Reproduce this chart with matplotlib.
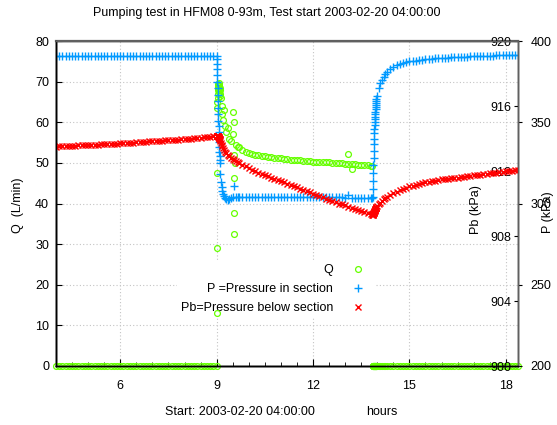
import matplotlib
matplotlib.use('Agg')
import matplotlib.pyplot as plt
from matplotlib.ticker import MultipleLocator

plt.rcParams['font.family'] = ['Liberation Sans', 'DejaVu Sans']

# ---------------- data ----------------
# before pumping
hours_before = [4.0, 4.1, 4.2, 4.3, 4.4, 4.5, 4.6, 4.7, 4.8, 4.9,
                5.0, 5.1, 5.2, 5.3, 5.4, 5.5, 5.6, 5.7, 5.8, 5.9,
                6.0, 6.1, 6.2, 6.3, 6.4, 6.5, 6.6, 6.7, 6.8, 6.9,
                7.0, 7.1, 7.2, 7.3, 7.4, 7.5, 7.6, 7.7, 7.8, 7.9,
                8.0, 8.1, 8.2, 8.3, 8.4, 8.5, 8.6, 8.7, 8.8, 8.9]
q_before = [0.0] * 50
p_before = [391.0] * 50
pb_before = [913.50, 913.51, 913.52, 913.53, 913.54, 913.55, 913.56, 913.57, 913.58, 913.59,
             913.60, 913.61, 913.62, 913.63, 913.64, 913.65, 913.66, 913.67, 913.68, 913.69,
             913.70, 913.71, 913.73, 913.74, 913.75, 913.77, 913.78, 913.79, 913.80, 913.82,
             913.83, 913.84, 913.85, 913.86, 913.88, 913.89, 913.90, 913.91, 913.93, 913.94,
             913.95, 913.97, 913.99, 914.01, 914.03, 914.05, 914.07, 914.09, 914.11, 914.13]

# pumping period
hours_pump = [9.000, 9.005, 9.010, 9.015, 9.020, 9.025, 9.030, 9.035, 9.040, 9.045,
              9.050, 9.055, 9.060, 9.065, 9.070, 9.075, 9.080, 9.085, 9.090, 9.095, 9.100,
              9.12, 9.14, 9.16, 9.18, 9.20, 9.23, 9.26, 9.30, 9.35, 9.40, 9.45, 9.50,
              9.55, 9.60, 9.65, 9.70, 9.80, 9.90,
              10.0, 10.1, 10.2, 10.3, 10.4, 10.5, 10.6, 10.7, 10.8, 10.9,
              11.0, 11.1, 11.2, 11.3, 11.4, 11.5, 11.6, 11.7, 11.8, 11.9,
              12.0, 12.1, 12.2, 12.3, 12.4, 12.5, 12.6, 12.7, 12.8, 12.9,
              13.0, 13.1, 13.2, 13.3, 13.4, 13.5, 13.6, 13.7, 13.8, 13.85]
q_pump = [0.0, 13.0, 29.0, 47.4, 63.5, 65.0, 66.0, 67.0, 68.0, 68.5,
          69.0, 69.5, 69.7, 69.0, 68.0, 69.0, 67.5, 68.5, 66.5, 68.0, 67.0,
          68.5, 66.0, 64.0, 62.0, 60.5, 63.0, 59.0, 57.5, 58.5, 56.0, 55.5, 57.0,
          52.0, 54.5, 54.0, 53.8, 53.2, 52.8,
          52.4, 52.2, 52.0, 51.9, 51.7, 51.6, 51.5, 51.4, 51.3, 51.2,
          51.1, 51.0, 50.9, 50.8, 50.7, 50.7, 50.6, 50.5, 50.5, 50.4,
          50.3, 50.3, 50.2, 50.2, 50.1, 50.1, 50.0, 50.0, 49.9, 49.9,
          49.8, 49.8, 49.7, 49.7, 49.6, 49.6, 49.5, 49.4, 49.3, 49.2]
p_pump = [391.0, 389.0, 386.0, 382.5, 379.0, 375.0, 371.0, 367.0, 363.0, 359.0,
          355.0, 351.0, 347.5, 344.0, 341.0, 338.0, 335.0, 332.0, 329.5, 327.0, 325.0,
          318.0, 313.0, 310.0, 307.5, 306.0, 304.5, 303.5, 302.5, 302.0, 302.5, 303.3, 303.8,
          311.0, 304.0, 304.0, 304.0, 304.2, 304.2,
          304.2, 304.2, 304.2, 304.2, 304.2, 304.2, 304.2, 304.2, 304.2, 304.2,
          304.0, 304.0, 304.0, 304.0, 304.0, 304.0, 304.0, 304.0, 304.0, 304.0,
          303.8, 303.8, 303.8, 303.8, 303.8, 303.8, 303.8, 303.8, 303.8, 303.8,
          303.5, 305.5, 303.5, 303.5, 303.5, 303.5, 303.5, 303.5, 303.5, 303.5]
pb_pump = [914.15, 914.16, 914.17, 914.18, 914.18, 914.18, 914.18, 914.17, 914.16, 914.15,
           914.13, 914.11, 914.09, 914.07, 914.05, 914.03, 914.01, 913.99, 913.97, 913.95, 913.93,
           913.83, 913.73, 913.63, 913.53, 913.43, 913.30, 913.20, 913.08, 912.98, 912.90, 912.80, 912.73,
           912.65, 912.60, 912.55, 912.50, 912.38, 912.28,
           912.18, 912.08, 911.98, 911.90, 911.83, 911.75, 911.68, 911.60, 911.53, 911.45,
           911.38, 911.30, 911.23, 911.15, 911.08, 911.00, 910.90, 910.83, 910.75, 910.68,
           910.60, 910.53, 910.45, 910.38, 910.30, 910.23, 910.15, 910.08, 910.00, 909.95,
           909.88, 909.80, 909.75, 909.68, 909.63, 909.55, 909.48, 909.40, 909.33, 909.30]

# scattered flow readings
q_extra_hours = [9.52, 9.53, 9.55, 9.55, 9.55, 9.56, 13.1, 13.2]
q_extra = [62.5, 60.0, 46.2, 37.6, 32.5, 50.0, 52.2, 48.5]

# recovery period
hours_recov = [13.860, 13.865, 13.870, 13.875, 13.880, 13.885, 13.890, 13.895, 13.900, 13.905,
               13.910, 13.915, 13.920, 13.925, 13.930, 13.935, 13.940, 13.945, 13.950, 13.955,
               13.960, 13.965, 13.970,
               14.00, 14.05, 14.10, 14.15, 14.20, 14.25, 14.30, 14.40,
               14.5, 14.6, 14.7, 14.8, 14.9, 15.0, 15.1, 15.2, 15.3, 15.4,
               15.5, 15.6, 15.7, 15.8, 15.9, 16.0, 16.1, 16.2, 16.3, 16.4,
               16.5, 16.6, 16.7, 16.8, 16.9, 17.0, 17.1, 17.2, 17.3, 17.4,
               17.5, 17.6, 17.7, 17.8, 17.9, 18.0, 18.1, 18.2, 18.3, 18.38]
q_recov = [0.0] * 71
p_recov = [303.75, 308.75, 313.75, 318.75, 323.75, 328.25, 332.5, 336.5, 340.0, 343.25,
           346.0, 348.25, 350.25, 352.0, 353.5, 355.0, 356.5, 358.0, 359.5, 360.75,
           362.0, 363.25, 364.5,
           366.25, 371.25, 374.0, 376.25, 378.0, 379.5, 380.75, 382.75,
           384.0, 385.0, 385.75, 386.5, 387.0, 387.5, 387.75, 388.0, 388.25, 388.5,
           388.75, 388.9, 389.0, 389.25, 389.4, 389.5, 389.6, 389.75, 389.9, 390.0,
           390.0, 390.1, 390.25, 390.4, 390.5, 390.5, 390.6, 390.75, 390.75, 390.9,
           391.0, 391.0, 391.1, 391.25, 391.25, 391.25, 391.4, 391.5, 391.5, 391.6]
pb_recov = [909.30, 909.30, 909.33, 909.35, 909.38, 909.40, 909.43, 909.45, 909.48, 909.50,
            909.53, 909.55, 909.58, 909.60, 909.63, 909.65, 909.68, 909.70, 909.73, 909.74,
            909.75, 909.76, 909.78,
            909.83, 909.95, 910.05, 910.15, 910.25, 910.33, 910.40, 910.53,
            910.63, 910.73, 910.83, 910.90, 910.98, 911.05, 911.10, 911.15, 911.20, 911.25,
            911.30, 911.33, 911.38, 911.40, 911.43, 911.48, 911.50, 911.53, 911.55, 911.58,
            911.60, 911.63, 911.65, 911.68, 911.70, 911.73, 911.75, 911.78, 911.80, 911.83,
            911.85, 911.88, 911.90, 911.93, 911.95, 911.98, 912.00, 912.03, 912.05, 912.08]

x_ticks = [6, 9, 12, 15, 18]
q_ticks = [0, 10, 20, 30, 40, 50, 60, 70, 80]
p_ticks = [200, 250, 300, 350, 400]
pb_ticks = [900, 904, 908, 912, 916, 920]

hours = hours_before + hours_pump + hours_recov
q_lmin = q_before + q_pump + q_recov
p_kpa = p_before + p_pump + p_recov
pb_kpa = pb_before + pb_pump + pb_recov

# ---------------- figure ----------------
GREEN = '#66ff00'
BLUE = '#0099ff'
RED = '#ff0000'
FS = 9

fig = plt.figure(figsize=(5.57, 4.25), dpi=100)
ax = fig.add_axes([56 / 557, 1 - 366 / 425, 462 / 557, 325 / 425])
axp = ax.twinx()
axpb = ax.twinx()

hq, = ax.plot(hours, q_lmin, ls='none', marker='o', mfc='none', mec=GREEN,
              ms=4.2, mew=0.9, clip_on=False, label='Q', zorder=3)
ax.plot(q_extra_hours, q_extra, ls='none', marker='o', mfc='none', mec=GREEN,
        ms=4.2, mew=0.9, clip_on=False, zorder=3)
hp, = axp.plot(hours, p_kpa, ls='none', marker='+', color=BLUE, ms=6, mew=1.0,
               label='P =Pressure in section')
hpb, = axpb.plot(hours, pb_kpa, ls='none', marker='x', color=RED, ms=5, mew=1.0,
                 label='Pb=Pressure below section')

ax.set_xlim(4.0, 18.38)
ax.set_ylim(0, 80)
axp.set_ylim(200, 400)
axpb.set_ylim(900, 920)

ax.set_xticks(x_ticks)
ax.xaxis.set_minor_locator(MultipleLocator(0.5))
ax.set_yticks(q_ticks)
ax.tick_params(axis='x', which='major', direction='in', length=5, pad=10, labelsize=FS)
ax.tick_params(axis='x', which='minor', direction='in', length=3)
ax.tick_params(axis='y', direction='in', length=4, pad=5, labelsize=FS)

axp.set_yticks(p_ticks)
axp.tick_params(axis='y', direction='out', length=3, pad=6, labelsize=FS)

axpb.set_yticks(pb_ticks)
axpb.tick_params(axis='y', direction='in', length=3, pad=-5, labelsize=FS)
for lbl in axpb.get_yticklabels():
    lbl.set_horizontalalignment('right')

ax.grid(True, which='major', color='#c4c4c4', ls=(0, (1, 2)), lw=0.8)
ax.set_axisbelow(True)

for a in (ax, axp, axpb):
    a.spines['left'].set_color('black')
    a.spines['bottom'].set_color('black')
    a.spines['top'].set_color('#606060')
    a.spines['right'].set_color('#606060')
    for s in a.spines.values():
        s.set_linewidth(1.0)
axp.spines['top'].set_linewidth(1.6)

# legend lives in the Q axes, below the Q markers (as in the reference)
leg = ax.legend([hq, hp, hpb], [h.get_label() for h in (hq, hp, hpb)],
                loc='upper right', bbox_to_anchor=(0.703, 0.344),
                markerfirst=False, frameon=True, facecolor='white',
                edgecolor='none', framealpha=1, fontsize=FS, numpoints=1,
                handlelength=2.0, handletextpad=1.0, labelspacing=0.55,
                borderpad=0.3)
leg.set_zorder(2.5)

fig.text(267 / 557, 1 - 13 / 425, 'Pumping test in HFM08 0-93m, Test start 2003-02-20 04:00:00',
         ha='center', va='center', fontsize=FS)
fig.text(18 / 557, 1 - 205 / 425, 'Q  (L/min)', rotation=90, ha='center', va='center', fontsize=FS)
fig.text(476 / 557, 1 - 210 / 425, 'Pb (kPa)', rotation=90, ha='center', va='center', fontsize=FS)
fig.text(548 / 557, 1 - 212 / 425, 'P (kPa)', rotation=90, ha='center', va='center', fontsize=FS)
fig.text(165 / 557, 1 - 415 / 425, 'Start: 2003-02-20 04:00:00', ha='left', va='baseline', fontsize=FS)
fig.text(366 / 557, 1 - 415 / 425, 'hours', ha='left', va='baseline', fontsize=FS)

fig.savefig('out.png', dpi=100)
